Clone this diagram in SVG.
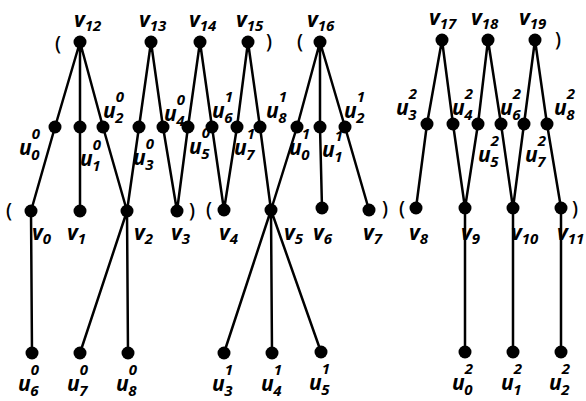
<svg xmlns="http://www.w3.org/2000/svg" width="586" height="401" viewBox="0 0 586 401">
<style>
.e{stroke:#000;stroke-width:2.5;fill:none;stroke-linecap:round}
.n{fill:#000}
.b{font-family:"Open Sans","DejaVu Sans",sans-serif;font-style:italic;font-weight:700;font-size:21px;fill:#000}
.s{font-size:15px}
.p{font-family:"Open Sans","DejaVu Sans",sans-serif;font-weight:600;font-size:19px;fill:#000}
</style>
<rect width="586" height="401" fill="#fff"/>
<g id="connectors" class="e">
<path d="M80 42L55 127M80 42L80 127M80 42L103 127M151 42L139 127M151 42L163 127M200 42L188 127M200 42L212 127M248 42L237 127M248 42L260 127M320 42L297 127M320 42L320 127M320 42L345 127M442 40L427 124M442 40L453 124M488 40L478 124M488 40L501 124M535 40L524 124M535 40L547 124"/>
<path d="M55 127L31 211M80 127L80 211M103 127L127 211M139 127L127 211M163 127L177 211M188 127L177 211M212 127L224 210M237 127L224 210M260 127L271 210M297 127L271 210M320 127L322 208M345 127L369 210M427 124L416 208M453 124L465 208M478 124L465 208M501 124L513 208M524 124L513 208M547 124L561 208"/>
<path d="M31 211L32 353M127 211L80 353M127 211L128 353M271 210L224 353M271 210L272 353M271 210L321 352M465 208L465 352M513 208L513 352M561 208L561 352"/>
</g>
<g id="brackets" class="p">
<text x="55" y="50">(</text><text x="266" y="48">)</text><text x="297" y="48">(</text><text x="555" y="46">)</text>
<text x="6" y="217">(</text><text x="189" y="217">)</text><text x="206" y="216">(</text><text x="382" y="215">)</text><text x="399" y="215">(</text><text x="572" y="215">)</text>
</g>
<g id="v12"><circle class="n" cx="80" cy="42" r="6.5"/><text class="b" x="74" y="27">v<tspan class="s" dy="4">12</tspan></text></g>
<g id="v13"><circle class="n" cx="151" cy="42" r="6.5"/><text class="b" x="139" y="27">v<tspan class="s" dy="4">13</tspan></text></g>
<g id="v14"><circle class="n" cx="200" cy="42" r="6.5"/><text class="b" x="189" y="27">v<tspan class="s" dy="4">14</tspan></text></g>
<g id="v15"><circle class="n" cx="248" cy="42" r="6.5"/><text class="b" x="236" y="27">v<tspan class="s" dy="4">15</tspan></text></g>
<g id="v16"><circle class="n" cx="320" cy="42" r="6.5"/><text class="b" x="307" y="27">v<tspan class="s" dy="4">16</tspan></text></g>
<g id="v17"><circle class="n" cx="442" cy="40" r="6.5"/><text class="b" x="429" y="25">v<tspan class="s" dy="4">17</tspan></text></g>
<g id="v18"><circle class="n" cx="488" cy="40" r="6.5"/><text class="b" x="471" y="25">v<tspan class="s" dy="4">18</tspan></text></g>
<g id="v19"><circle class="n" cx="535" cy="40" r="6.5"/><text class="b" x="519" y="25">v<tspan class="s" dy="4">19</tspan></text></g>
<g id="u0_0"><circle class="n" cx="55" cy="127" r="6.5"/><text class="b" x="19" y="155">u<tspan class="s" dy="-16">0</tspan><tspan class="s" dx="-8.6" dy="21">0</tspan></text></g>
<g id="u1_0"><circle class="n" cx="80" cy="127" r="6.5"/><text class="b" x="80" y="166">u<tspan class="s" dy="-16">0</tspan><tspan class="s" dx="-8.6" dy="21">1</tspan></text></g>
<g id="u2_0"><circle class="n" cx="103" cy="127" r="6.5"/><text class="b" x="103" y="118">u<tspan class="s" dy="-16">0</tspan><tspan class="s" dx="-8.6" dy="21">2</tspan></text></g>
<g id="u3_0"><circle class="n" cx="139" cy="127" r="6.5"/><text class="b" x="133" y="165">u<tspan class="s" dy="-16">0</tspan><tspan class="s" dx="-8.6" dy="21">3</tspan></text></g>
<g id="u4_0"><circle class="n" cx="163" cy="127" r="6.5"/><text class="b" x="164" y="121">u<tspan class="s" dy="-16">0</tspan><tspan class="s" dx="-8.6" dy="21">4</tspan></text></g>
<g id="u5_0"><circle class="n" cx="188" cy="127" r="6.5"/><text class="b" x="189" y="154">u<tspan class="s" dy="-16">0</tspan><tspan class="s" dx="-8.6" dy="21">5</tspan></text></g>
<g id="u6_1"><circle class="n" cx="212" cy="127" r="6.5"/><text class="b" x="212" y="118">u<tspan class="s" dy="-16">1</tspan><tspan class="s" dx="-8.6" dy="21">6</tspan></text></g>
<g id="u7_1"><circle class="n" cx="237" cy="127" r="6.5"/><text class="b" x="234" y="155">u<tspan class="s" dy="-16">1</tspan><tspan class="s" dx="-8.6" dy="21">7</tspan></text></g>
<g id="u8_1"><circle class="n" cx="260" cy="127" r="6.5"/><text class="b" x="266" y="118">u<tspan class="s" dy="-16">1</tspan><tspan class="s" dx="-8.6" dy="21">8</tspan></text></g>
<g id="u0_1"><circle class="n" cx="297" cy="127" r="6.5"/><text class="b" x="289" y="155">u<tspan class="s" dy="-16">1</tspan><tspan class="s" dx="-8.6" dy="21">0</tspan></text></g>
<g id="u1_1"><circle class="n" cx="320" cy="127" r="6.5"/><text class="b" x="322" y="157">u<tspan class="s" dy="-16">1</tspan><tspan class="s" dx="-8.6" dy="21">1</tspan></text></g>
<g id="u2_1"><circle class="n" cx="345" cy="127" r="6.5"/><text class="b" x="344" y="118">u<tspan class="s" dy="-16">1</tspan><tspan class="s" dx="-8.6" dy="21">2</tspan></text></g>
<g id="u3_2"><circle class="n" cx="427" cy="124" r="6.5"/><text class="b" x="396" y="115">u<tspan class="s" dy="-16">2</tspan><tspan class="s" dx="-8.6" dy="21">3</tspan></text></g>
<g id="u4_2"><circle class="n" cx="453" cy="124" r="6.5"/><text class="b" x="452" y="115">u<tspan class="s" dy="-16">2</tspan><tspan class="s" dx="-8.6" dy="21">4</tspan></text></g>
<g id="u5_2"><circle class="n" cx="478" cy="124" r="6.5"/><text class="b" x="478" y="162">u<tspan class="s" dy="-16">2</tspan><tspan class="s" dx="-8.6" dy="21">5</tspan></text></g>
<g id="u6_2"><circle class="n" cx="501" cy="124" r="6.5"/><text class="b" x="500" y="115">u<tspan class="s" dy="-16">2</tspan><tspan class="s" dx="-8.6" dy="21">6</tspan></text></g>
<g id="u7_2"><circle class="n" cx="524" cy="124" r="6.5"/><text class="b" x="525" y="162">u<tspan class="s" dy="-16">2</tspan><tspan class="s" dx="-8.6" dy="21">7</tspan></text></g>
<g id="u8_2"><circle class="n" cx="547" cy="124" r="6.5"/><text class="b" x="554" y="115">u<tspan class="s" dy="-16">2</tspan><tspan class="s" dx="-8.6" dy="21">8</tspan></text></g>
<g id="v0"><circle class="n" cx="31" cy="211" r="6.5"/><text class="b" x="32" y="240">v<tspan class="s" dy="4">0</tspan></text></g>
<g id="v1"><circle class="n" cx="80" cy="211" r="6.5"/><text class="b" x="67" y="240">v<tspan class="s" dy="4">1</tspan></text></g>
<g id="v2"><circle class="n" cx="127" cy="211" r="6.5"/><text class="b" x="134" y="240">v<tspan class="s" dy="4">2</tspan></text></g>
<g id="v3"><circle class="n" cx="177" cy="211" r="6.5"/><text class="b" x="171" y="240">v<tspan class="s" dy="4">3</tspan></text></g>
<g id="v4"><circle class="n" cx="224" cy="210" r="6.5"/><text class="b" x="219" y="240">v<tspan class="s" dy="4">4</tspan></text></g>
<g id="v5"><circle class="n" cx="271" cy="210" r="6.5"/><text class="b" x="284" y="240">v<tspan class="s" dy="4">5</tspan></text></g>
<g id="v6"><circle class="n" cx="322" cy="208" r="6.5"/><text class="b" x="313" y="240">v<tspan class="s" dy="4">6</tspan></text></g>
<g id="v7"><circle class="n" cx="369" cy="210" r="6.5"/><text class="b" x="363" y="240">v<tspan class="s" dy="4">7</tspan></text></g>
<g id="v8"><circle class="n" cx="416" cy="208" r="6.5"/><text class="b" x="409" y="240">v<tspan class="s" dy="4">8</tspan></text></g>
<g id="v9"><circle class="n" cx="465" cy="208" r="6.5"/><text class="b" x="461" y="240">v<tspan class="s" dy="4">9</tspan></text></g>
<g id="v10"><circle class="n" cx="513" cy="208" r="6.5"/><text class="b" x="511" y="240">v<tspan class="s" dy="4">10</tspan></text></g>
<g id="v11"><circle class="n" cx="561" cy="208" r="6.5"/><text class="b" x="557" y="240">v<tspan class="s" dy="4">11</tspan></text></g>
<g id="u6_0"><circle class="n" cx="32" cy="353" r="6.5"/><text class="b" x="18" y="391">u<tspan class="s" dy="-16">0</tspan><tspan class="s" dx="-8.6" dy="21">6</tspan></text></g>
<g id="u7_0"><circle class="n" cx="80" cy="353" r="6.5"/><text class="b" x="67" y="391">u<tspan class="s" dy="-16">0</tspan><tspan class="s" dx="-8.6" dy="21">7</tspan></text></g>
<g id="u8_0"><circle class="n" cx="128" cy="353" r="6.5"/><text class="b" x="116" y="391">u<tspan class="s" dy="-16">0</tspan><tspan class="s" dx="-8.6" dy="21">8</tspan></text></g>
<g id="u3_1"><circle class="n" cx="224" cy="353" r="6.5"/><text class="b" x="212" y="391">u<tspan class="s" dy="-16">1</tspan><tspan class="s" dx="-8.6" dy="21">3</tspan></text></g>
<g id="u4_1"><circle class="n" cx="272" cy="353" r="6.5"/><text class="b" x="261" y="391">u<tspan class="s" dy="-16">1</tspan><tspan class="s" dx="-8.6" dy="21">4</tspan></text></g>
<g id="u5_1"><circle class="n" cx="321" cy="352" r="6.5"/><text class="b" x="309" y="390">u<tspan class="s" dy="-16">1</tspan><tspan class="s" dx="-8.6" dy="21">5</tspan></text></g>
<g id="u0_2"><circle class="n" cx="465" cy="352" r="6.5"/><text class="b" x="452" y="390">u<tspan class="s" dy="-16">2</tspan><tspan class="s" dx="-8.6" dy="21">0</tspan></text></g>
<g id="u1_2"><circle class="n" cx="513" cy="352" r="6.5"/><text class="b" x="501" y="390">u<tspan class="s" dy="-16">2</tspan><tspan class="s" dx="-8.6" dy="21">1</tspan></text></g>
<g id="u2_2"><circle class="n" cx="561" cy="352" r="6.5"/><text class="b" x="549" y="390">u<tspan class="s" dy="-16">2</tspan><tspan class="s" dx="-8.6" dy="21">2</tspan></text></g>
</svg>
